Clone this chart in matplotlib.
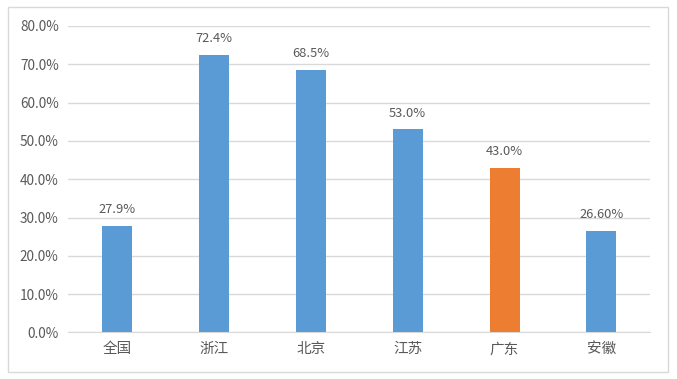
import matplotlib.pyplot as plt
from matplotlib.patches import Rectangle
import numpy as np

plt.rcParams['font.family'] = ['Noto Sans CJK SC', 'DejaVu Sans']

# 数据
regions = ['全国', '浙江', '北京', '江苏', '广东', '安徽']
values = [27.9, 72.4, 68.5, 53.0, 43.0, 26.6]
value_labels = ['27.9%', '72.4%', '68.5%', '53.0%', '43.0%', '26.60%']
highlight = '广东'

blue = '#5B9BD5'
orange = '#ED7D31'
text_color = '#595959'

fig = plt.figure(figsize=(6.77, 3.79), dpi=100)
ax = fig.add_axes([0.101, 0.1227, 0.859, 0.8087])

x = np.arange(len(regions))
colors = [orange if r == highlight else blue for r in regions]
bars = ax.bar(x, values, width=0.31, color=colors, zorder=3)

for bar, lab in zip(bars, value_labels):
    ax.annotate(lab, (bar.get_x() + bar.get_width() / 2, bar.get_height()),
                xytext=(0, 7), textcoords='offset points',
                ha='center', va='bottom', fontsize=9.3, color=text_color)

ax.set_xlim(-0.5, len(regions) - 0.5)
ax.set_ylim(0, 80)
ax.set_yticks(np.arange(0, 81, 10))
ax.set_yticklabels([f'{v:.1f}%' for v in np.arange(0, 81, 10)])
ax.set_xticks(x)
ax.set_xticklabels(regions)

ax.grid(axis='y', color='#D9D9D9', linewidth=1, zorder=0)
for s in ['top', 'right', 'left']:
    ax.spines[s].set_visible(False)
ax.spines['bottom'].set_color('#D9D9D9')
ax.tick_params(axis='both', length=0, colors=text_color)
ax.tick_params(axis='y', pad=7, labelsize=9.8)
ax.tick_params(axis='x', pad=7, labelsize=10.5)

# 外框
fig.patches.append(Rectangle((8 / 677, 1 - 372 / 379), 660 / 677, 365 / 379,
                             transform=fig.transFigure, fill=False,
                             edgecolor='#D9D9D9', linewidth=1))

fig.savefig('out.png', dpi=100)
